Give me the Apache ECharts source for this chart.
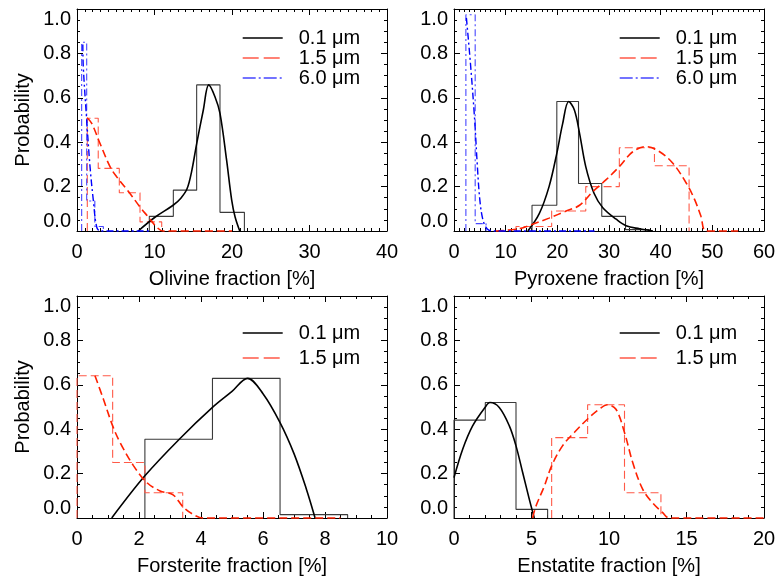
<!DOCTYPE html>
<html>
<head>
<meta charset="utf-8">
<script src="https://cdn.jsdelivr.net/npm/echarts@6/dist/echarts.min.js"></script>
<style>
html,body{margin:0;padding:0;background:#fff;}
#chart{width:776px;height:576px;}
</style>
</head>
<body>
<div id="chart"></div>
<script>
// ---------- data ----------
const xAxisNames = ['Olivine fraction [%]', 'Pyroxene fraction [%]', 'Forsterite fraction [%]', 'Enstatite fraction [%]'];
const xMaxes = [40, 60, 10, 20];
const xIntervals = [10, 10, 2, 5];
const xMinorSplits = [10, 10, 4, 5];
const sizeLabels = ['0.1 μm', '1.5 μm', '6.0 μm'];

// Olivine (top left)
const olivineHist01Edges = [9.33, 12.43, 15.44, 18.45, 21.6];
const olivineHist01Heights = [0.066, 0.184, 0.658, 0.084];
const olivineFit01X = [7.9, 10.1, 12.4, 13.4, 14.2, 14.8, 15.45, 16.3, 17.0, 17.8, 18.45, 19.3, 19.96, 20.4, 21.0];
const olivineFit01Y = [0, 0.063, 0.116, 0.148, 0.19, 0.27, 0.395, 0.545, 0.658, 0.605, 0.53, 0.32, 0.139, 0.063, 0];
const olivineHist15Edges = [1.33, 2.74, 5.46, 8.13, 10.93];
const olivineHist15Heights = [0.508, 0.282, 0.172, 0.041];
const olivineFit15X = [1.3, 1.9, 2.96, 4.26, 5.12, 6.84, 8.13, 9.2, 10.27, 11.1, 20];
const olivineFit15Y = [0.51, 0.485, 0.395, 0.29, 0.244, 0.169, 0.108, 0.063, 0.018, 0, 0];
const olivineHist60Edges = [0.6, 1.25, 2.3, 3.4];
const olivineHist60Heights = [0.85, 0.135, 0.02];
const olivineFit60X = [0.75, 0.81, 1.25, 1.68, 2.1, 2.54, 3.0, 9.3];
const olivineFit60Y = [0.84, 0.74, 0.5, 0.29, 0.14, 0.018, 0, 0];

// Pyroxene (top right)
const pyroxeneHist01Edges = [15.1, 19.9, 24.1, 28.6, 33.2, 37.8];
const pyroxeneHist01Heights = [0.116, 0.583, 0.214, 0.066, 0.006];
const pyroxeneFit01X = [14.3, 16.5, 18.4, 19.9, 21.0, 22.2, 23.3, 24.3, 25.5, 27.1, 28.8, 31.4, 33.3, 35.9, 38.5];
const pyroxeneFit01Y = [0, 0.078, 0.2, 0.35, 0.48, 0.583, 0.545, 0.44, 0.29, 0.17, 0.105, 0.053, 0.024, 0.01, 0];
const pyroxeneHist15Edges = [12.0, 18.9, 25.5, 32.0, 38.8, 45.5];
const pyroxeneHist15Heights = [0.02, 0.09, 0.2, 0.375, 0.294];
const pyroxeneFit15X = [8.1, 12.6, 15.2, 18.4, 21.7, 24.3, 26.8, 29.4, 32.0, 34.6, 37.2, 39.8, 42.4, 45.0, 46.6, 47.8, 48.8, 55];
const pyroxeneFit15Y = [0, 0.01, 0.03, 0.058, 0.09, 0.116, 0.176, 0.23, 0.29, 0.357, 0.38, 0.357, 0.304, 0.214, 0.14, 0.066, 0, 0];
const pyroxeneHist60Edges = [2.3, 4.1, 6.2];
const pyroxeneHist60Heights = [0.974, 0.033];
const pyroxeneFit60X = [2.4, 3.2, 4.0, 4.5, 5.0, 5.6, 6.4, 7.5, 27.2];
const pyroxeneFit60Y = [0.96, 0.75, 0.5, 0.3, 0.14, 0.05, 0.01, 0, 0];

// Forsterite (bottom left)
const forsteriteHist01Edges = [2.19, 4.37, 6.55, 8.73];
const forsteriteHist01Heights = [0.355, 0.629, 0.015];
const forsteriteFit01X = [1.12, 2.19, 3.3, 4.37, 5.0, 5.5, 6.0, 6.55, 7.0, 7.4, 7.68];
const forsteriteFit01Y = [0, 0.19, 0.355, 0.498, 0.57, 0.629, 0.56, 0.43, 0.29, 0.13, 0];
const forsteriteHist15Edges = [0, 1.15, 2.19, 3.41];
const forsteriteHist15Heights = [0.641, 0.25, 0.114];
const forsteriteFit15X = [0.58, 0.85, 1.15, 1.39, 1.82, 2.25, 2.68, 3.1, 3.42, 3.7, 4.07, 8.5];
const forsteriteFit15Y = [0.641, 0.536, 0.415, 0.34, 0.236, 0.16, 0.122, 0.104, 0.05, 0.02, 0, 0];

// Enstatite (bottom right)
const enstatiteHist01Edges = [0, 2.02, 4.0, 6.04];
const enstatiteHist01Heights = [0.441, 0.52, 0.039];
const enstatiteFit01X = [0, 0.56, 1.2, 2.0, 2.32, 2.92, 3.57, 4.0, 4.43, 4.86, 5.18];
const enstatiteFit01Y = [0.182, 0.31, 0.415, 0.498, 0.52, 0.498, 0.415, 0.325, 0.205, 0.084, 0];
const enstatiteHist15Edges = [6.3, 8.62, 11.0, 13.35];
const enstatiteHist15Heights = [0.362, 0.51, 0.114];
const enstatiteFit15X = [5.07, 5.29, 5.83, 6.3, 7.0, 7.76, 8.62, 9.37, 9.9, 10.45, 11.0, 11.53, 12.17, 12.8, 13.46, 13.9, 20];
const enstatiteFit15Y = [0, 0.054, 0.144, 0.235, 0.325, 0.385, 0.446, 0.49, 0.51, 0.49, 0.385, 0.25, 0.13, 0.069, 0.024, 0, 0];

// ---------- helpers ----------
const FONT = "'Liberation Sans', Arial, Helvetica, sans-serif";
function pairs(xs, ys) { return xs.map((v, i) => [v, ys[i]]); }
function steps(edges, heights) {
  const pts = [[edges[0], 0]];
  for (let i = 0; i < heights.length; i++) {
    pts.push([edges[i], heights[i]]);
    pts.push([edges[i + 1], heights[i]]);
  }
  pts.push([edges[edges.length - 1], 0]);
  return pts;
}
const styles = {
  k: { curve: { color: '#000000', width: 1.6, type: 'solid' }, hist: { color: '#3a3a3a', width: 1.1, type: 'solid' }, legend: 'solid' },
  r: { curve: { color: '#ff2000', width: 1.6, type: [8, 4] }, hist: { color: '#ff5a48', width: 1.1, type: [8, 4] }, legend: [16, 5] },
  b: { curve: { color: '#0000ff', width: 1.4, type: [7, 3, 2, 3] }, hist: { color: '#4646ff', width: 1.1, type: [7, 3, 2, 3] }, legend: [13, 3, 2, 3] }
};

const panels = [
  [
    ['k', 0, steps(olivineHist01Edges, olivineHist01Heights), pairs(olivineFit01X, olivineFit01Y)],
    ['r', 1, steps(olivineHist15Edges, olivineHist15Heights), pairs(olivineFit15X, olivineFit15Y)],
    ['b', 2, steps(olivineHist60Edges, olivineHist60Heights), pairs(olivineFit60X, olivineFit60Y)]
  ],
  [
    ['k', 0, steps(pyroxeneHist01Edges, pyroxeneHist01Heights), pairs(pyroxeneFit01X, pyroxeneFit01Y)],
    ['r', 1, steps(pyroxeneHist15Edges, pyroxeneHist15Heights), pairs(pyroxeneFit15X, pyroxeneFit15Y)],
    ['b', 2, steps(pyroxeneHist60Edges, pyroxeneHist60Heights), pairs(pyroxeneFit60X, pyroxeneFit60Y)]
  ],
  [
    ['k', 0, steps(forsteriteHist01Edges, forsteriteHist01Heights), pairs(forsteriteFit01X, forsteriteFit01Y)],
    ['r', 1, steps(forsteriteHist15Edges, forsteriteHist15Heights), pairs(forsteriteFit15X, forsteriteFit15Y)]
  ],
  [
    ['k', 0, steps(enstatiteHist01Edges, enstatiteHist01Heights), pairs(enstatiteFit01X, enstatiteFit01Y)],
    ['r', 1, steps(enstatiteHist15Edges, enstatiteHist15Heights), pairs(enstatiteFit15X, enstatiteFit15Y)]
  ]
];

const gridPos = [
  { left: 77, top: 9 }, { left: 454, top: 9 },
  { left: 77, top: 296 }, { left: 454, top: 296 }
];
const legendPos = [
  { left: 242, top: 28, gap: 0 }, { left: 619, top: 28, gap: 0 },
  { left: 242, top: 323, gap: 5 }, { left: 619, top: 323, gap: 5 }
];

const grids = [], xAxes = [], yAxes = [], series = [], legends = [];
const tickLine = { color: '#000', width: 1 };
const labelStyle = { fontSize: 20, color: '#000', fontFamily: FONT };

panels.forEach((panel, g) => {
  grids.push({ left: gridPos[g].left, top: gridPos[g].top, width: 310, height: 222, containLabel: false, outerBoundsMode: 'none' });
  const xBase = {
    gridIndex: g, type: 'value', min: 0, max: xMaxes[g], interval: xIntervals[g],
    axisLine: { show: true, onZero: false, lineStyle: tickLine },
    axisTick: { show: true, inside: true, length: 6, lineStyle: tickLine },
    minorTick: { show: true, splitNumber: xMinorSplits[g], length: 3, lineStyle: tickLine },
    splitLine: { show: false }, minorSplitLine: { show: false }
  };
  xAxes.push(Object.assign({}, xBase, {
    position: 'bottom',
    axisLabel: Object.assign({ margin: 11, showMinLabel: true, showMaxLabel: true, hideOverlap: false }, labelStyle),
    name: xAxisNames[g], nameLocation: 'middle', nameGap: 38, nameMoveOverlap: false,
    nameTextStyle: labelStyle
  }));
  xAxes.push(Object.assign({}, xBase, { position: 'top', axisLabel: { show: false } }));
  const yBase = {
    gridIndex: g, type: 'value', min: 0, max: 1, interval: 0.2,
    axisLine: { show: true, onZero: false, lineStyle: tickLine },
    axisTick: { show: true, inside: true, length: 6, lineStyle: tickLine },
    minorTick: { show: true, splitNumber: 4, length: 3, lineStyle: tickLine },
    splitLine: { show: false }, minorSplitLine: { show: false }
  };
  const yLeft = Object.assign({}, yBase, {
    position: 'left',
    axisLabel: Object.assign({
      margin: 6, formatter: v => v.toFixed(1),
      verticalAlignMinLabel: 'bottom', verticalAlignMaxLabel: 'top',
      showMinLabel: true, showMaxLabel: true, hideOverlap: false
    }, labelStyle)
  });
  if (g % 2 === 0) {
    Object.assign(yLeft, {
      name: 'Probability', nameLocation: 'middle', nameGap: 44, nameRotate: 90,
      nameMoveOverlap: false, nameTextStyle: labelStyle
    });
  }
  yAxes.push(yLeft);
  yAxes.push(Object.assign({}, yBase, { position: 'right', axisLabel: { show: false } }));

  const legendData = [];
  panel.forEach(([key, li, histPts, fitPts]) => {
    const st = styles[key];
    series.push({
      type: 'line', name: sizeLabels[li], xAxisIndex: 2 * g, yAxisIndex: 2 * g,
      data: histPts, showSymbol: false, symbol: 'none', clip: false, silent: true,
      lineStyle: st.hist, itemStyle: { color: st.hist.color }, z: 3
    });
    series.push({
      type: 'line', name: 'fit ' + sizeLabels[li] + ' ' + g, xAxisIndex: 2 * g, yAxisIndex: 2 * g,
      data: fitPts, showSymbol: false, symbol: 'none', clip: false, silent: true,
      smooth: 0.35,
      lineStyle: st.curve, itemStyle: { color: st.curve.color }, z: 4
    });
    legendData.push({
      name: sizeLabels[li],
      itemStyle: { opacity: 0 },
      lineStyle: { type: st.legend, width: 1.4, color: key === 'k' ? '#000' : st.hist.color, opacity: 1 }
    });
  });
  legends.push({
    data: legendData, orient: 'vertical', left: legendPos[g].left, top: legendPos[g].top,
    itemWidth: 40, itemHeight: 14, itemGap: legendPos[g].gap, padding: 0,
    selectedMode: false,
    textStyle: { fontSize: 20, color: '#000', fontFamily: FONT, lineHeight: 20, padding: [0, 0, 0, 11] }
  });
});

const chart = echarts.init(document.getElementById('chart'), null, { renderer: 'canvas' });
chart.setOption({
  animation: false,
  backgroundColor: '#ffffff',
  textStyle: { fontFamily: FONT },
  grid: grids, xAxis: xAxes, yAxis: yAxes, legend: legends, series: series
});
</script>
</body>
</html>
